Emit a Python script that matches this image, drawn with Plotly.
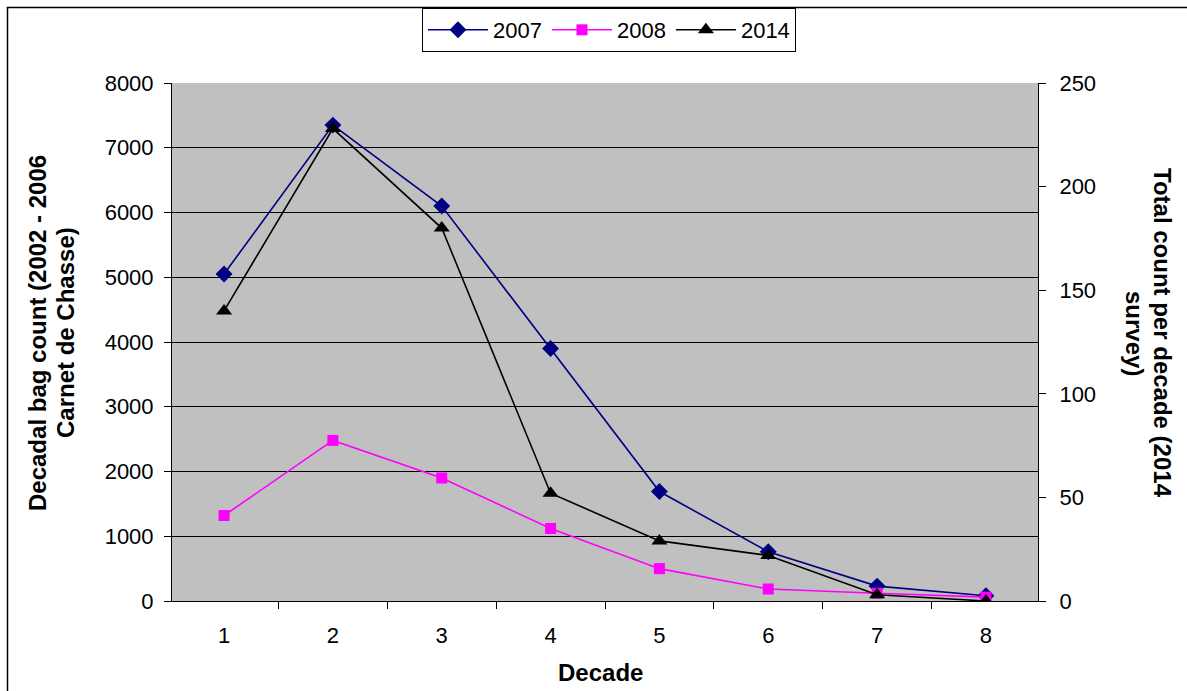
import plotly.graph_objects as go

# Decades of the season
decades = ["1", "2", "3", "4", "5", "6", "7", "8"]

# Bag counts per decade (left axis)
bag_2007 = [5050, 7350, 6100, 3900, 1690, 760, 230, 80]
bag_2008 = [1320, 2480, 1900, 1120, 500, 185, 120, 60]

# Total counts per decade, 2014 survey (right axis)
count_2014 = [140, 228, 180, 52, 29, 22, 3, 0]

left_ticks = [0, 1000, 2000, 3000, 4000, 5000, 6000, 7000, 8000]
right_ticks = [0, 50, 100, 150, 200, 250]

FONT = "Liberation Sans, Arial, sans-serif"
W, H = 1187, 691
L, R, T, B = 172, 1038, 83, 601


def px_x(px):
    return (px - L) / (R - L)


def px_y(py):
    return (B - py) / (B - T)


fig = go.Figure()

fig.add_trace(go.Scatter(
    x=decades, y=bag_2007, name="2007", mode="lines+markers",
    line=dict(color="#000080", width=1.6),
    marker=dict(symbol="diamond", size=13, color="#000080"),
))
fig.add_trace(go.Scatter(
    x=decades, y=bag_2008, name="2008", mode="lines+markers",
    line=dict(color="#FF00FF", width=1.6),
    marker=dict(symbol="square", size=11, color="#FF00FF"),
))
fig.add_trace(go.Scatter(
    x=decades, y=count_2014, name="2014", mode="lines+markers",
    yaxis="y2",
    line=dict(color="#000000", width=1.6),
    marker=dict(symbol="triangle-up", size=14, color="#000000"),
))

fig.update_layout(
    width=W, height=H,
    margin=dict(l=L, r=W - R, t=T, b=H - B, autoexpand=False),
    paper_bgcolor="white",
    plot_bgcolor="#C0C0C0",
    font=dict(family=FONT, size=22, color="black"),
    showlegend=True,
    legend=dict(
        orientation="h",
        x=px_x(609), xanchor="center",
        y=px_y(8), yanchor="top",
        bgcolor="white", bordercolor="black", borderwidth=1,
        font=dict(family=FONT, size=22),
        itemwidth=60,
        traceorder="normal",
    ),
    xaxis=dict(
        type="category",
        tickson="boundaries",
        ticks="outside", ticklen=7, tickcolor="black",
        showline=True, linecolor="black", linewidth=1,
        showgrid=False, zeroline=False,
        tickfont=dict(family=FONT, size=22),
        ticklabelstandoff=15,
    ),
    yaxis=dict(
        range=[0, 8000],
        tickvals=left_ticks,
        ticks="outside", ticklen=7, tickcolor="black",
        showline=True, linecolor="black", linewidth=1,
        showgrid=True, gridcolor="black", gridwidth=1,
        zeroline=False,
        tickfont=dict(family=FONT, size=22),
        ticklabelstandoff=6,
    ),
    yaxis2=dict(
        range=[0, 250],
        tickvals=right_ticks,
        overlaying="y", side="right",
        ticks="outside", ticklen=7, tickcolor="black",
        showline=True, linecolor="black", linewidth=1,
        showgrid=False, zeroline=False,
        tickfont=dict(family=FONT, size=22),
        ticklabelstandoff=9,
    ),
)

# Axis titles, one annotation per line
title_font = dict(family=FONT, size=24)
for text, cx in [("Decadal bag count (2002 - 2006", 37), ("Carnet de Chasse)", 65)]:
    fig.add_annotation(
        text=f"<b>{text}</b>",
        xref="paper", yref="paper", x=px_x(cx), y=px_y(333),
        xanchor="center", yanchor="middle", textangle=-90, showarrow=False,
        font=title_font,
    )
for text, cx in [("Total count per decade (2014", 1163), ("survey)", 1135)]:
    fig.add_annotation(
        text=f"<b>{text}</b>",
        xref="paper", yref="paper", x=px_x(cx), y=px_y(333),
        xanchor="center", yanchor="middle", textangle=90, showarrow=False,
        font=title_font,
    )
fig.add_annotation(
    text="<b>Decade</b>",
    xref="paper", yref="paper", x=px_x(600), y=px_y(672),
    xanchor="center", yanchor="middle", showarrow=False,
    font=title_font,
)

# Chart frame
fig.add_shape(
    type="rect", xref="paper", yref="paper",
    x0=px_x(7.5), x1=px_x(1195), y0=px_y(7.5), y1=px_y(700),
    line=dict(color="black", width=1.5), fillcolor="rgba(0,0,0,0)",
    layer="below",
)

fig.write_html("out.html")
